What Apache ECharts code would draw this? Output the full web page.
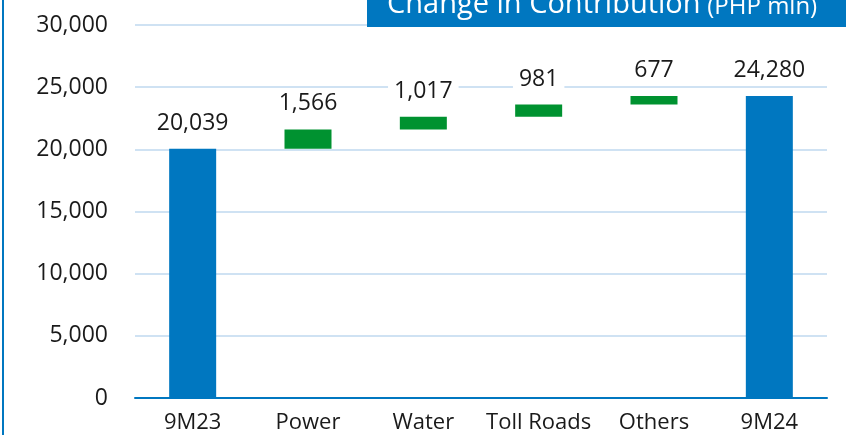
<!DOCTYPE html>
<html lang="en">
<head>
    <meta charset="utf-8">
    <title>Change in Contribution</title>
    <script src="https://cdn.jsdelivr.net/npm/echarts@6/dist/echarts.min.js"></script>
    <style>
        html, body { margin: 0; padding: 0; background: #fff; }
        #main { width: 846px; height: 435px; }
    </style>
</head>
<body>
<div id="main"></div>
<script type="text/javascript">
    // 数据
    var categories = ['9M23', 'Power', 'Water', 'Toll Roads', 'Others', '9M24'];
    var changes = [20039, 1566, 1017, 981, 677, 24280];
    var isTotal = [true, false, false, false, false, true];
    var yTicks = [0, 5000, 10000, 15000, 20000, 25000, 30000];

    var blue = '#0077c0';
    var green = '#009230';

    // 瀑布图的透明底座
    var baseList = [];
    var running = 0;
    for (var i = 0; i < changes.length; i++) {
        if (isTotal[i]) {
            baseList.push(0);
            running = changes[i];
        } else {
            baseList.push(running);
            running += changes[i];
        }
    }
    var barList = changes.map(function (v, i) {
        return { value: v, itemStyle: { color: isTotal[i] ? blue : green } };
    });

    var chart = echarts.init(document.getElementById('main'));
    var font = '"Open Sans", sans-serif';

    var option = {
        animation: false,
        grid: { left: 135, right: 19, top: 25, bottom: 37 },
        xAxis: {
            type: 'category',
            data: categories,
            axisLine: { lineStyle: { color: blue, width: 2 } },
            axisTick: { show: false },
            axisLabel: { color: '#1a1a1a', fontSize: 22, fontFamily: font, margin: 14, interval: 0 }
        },
        yAxis: {
            type: 'value',
            min: yTicks[0],
            max: yTicks[yTicks.length - 1],
            interval: yTicks[1] - yTicks[0],
            axisLine: { show: false },
            axisTick: { show: false },
            splitLine: { lineStyle: { color: '#cfe2f3', width: 2 } },
            axisLabel: {
                color: '#1a1a1a', fontSize: 23, fontFamily: font, margin: 27,
                formatter: function (v) { return v.toLocaleString('en-US'); }
            }
        },
        series: [
            {
                type: 'bar',
                stack: 'wf',
                data: baseList,
                barWidth: 47,
                itemStyle: { color: 'transparent' },
                silent: true
            },
            {
                type: 'bar',
                stack: 'wf',
                data: barList,
                barWidth: 47,
                label: {
                    show: true,
                    position: 'top',
                    distance: 12,
                    color: '#1a1a1a',
                    fontSize: 23,
                    fontFamily: font,
                    backgroundColor: '#fff',
                    padding: [2, 6],
                    formatter: function (p) { return p.value.toLocaleString('en-US'); }
                }
            }
        ],
        graphic: [
            {
                type: 'rect',
                left: 2, top: 0,
                shape: { width: 2, height: 435 },
                style: { fill: blue }
            },
            {
                type: 'rect',
                left: 367, top: 0,
                shape: { width: 479, height: 27 },
                style: { fill: blue },
                z: 100
            },
            {
                type: 'text',
                left: 387, top: -10,
                z: 101,
                style: {
                    text: '{a|Change in Contribution}  {b|(PHP mln)}',
                    rich: {
                        a: { fill: '#fff', fontSize: 29, fontFamily: font, verticalAlign: 'bottom' },
                        b: { fill: '#fff', fontSize: 24, fontFamily: font, verticalAlign: 'bottom' }
                    }
                }
            }
        ]
    };
    chart.setOption(option);
</script>
</body>
</html>
